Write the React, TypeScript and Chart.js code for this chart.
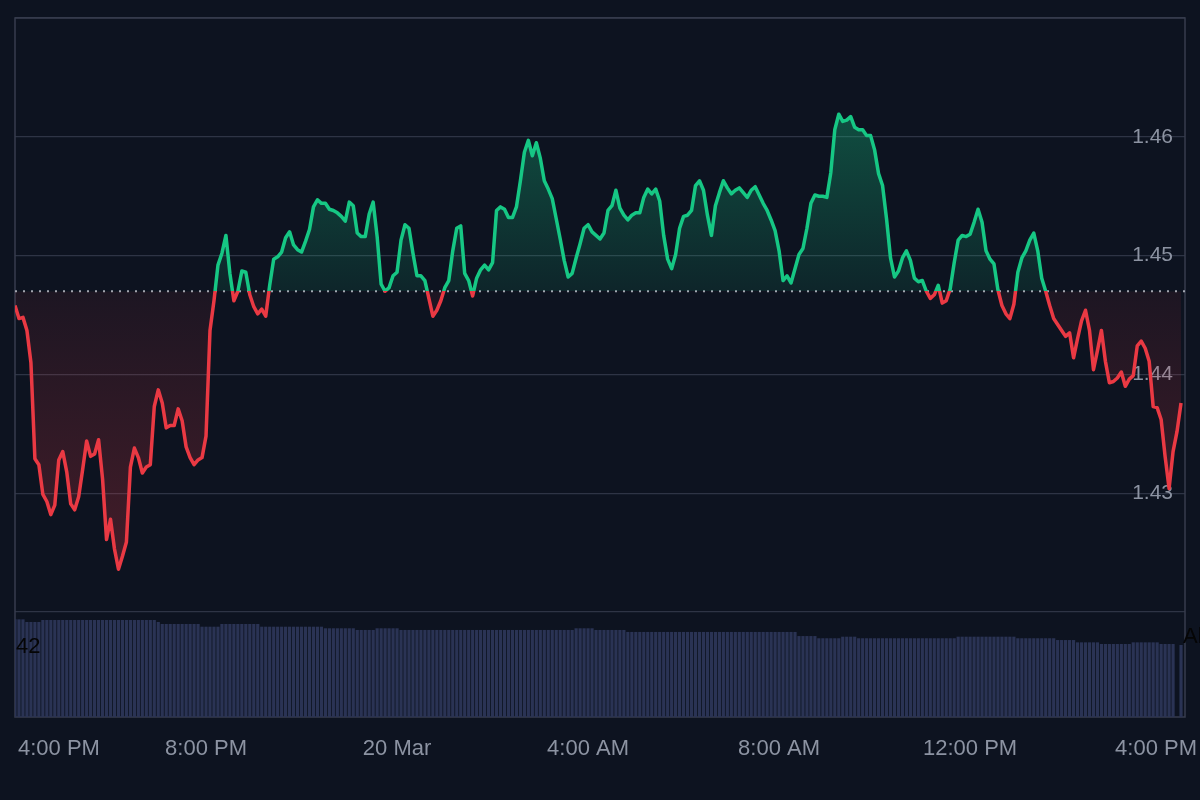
import React, { useEffect, useRef } from 'react';
import { Chart, registerables } from 'chart.js';

Chart.register(...registerables);

// ---------- data ----------
const BASELINE = 1.447;
const STEP_MIN = 5; // minutes between samples, first sample at 4:00 PM
const X_MAX = 1470;

const tickMinutes = [0, 240, 480, 720, 960, 1200, 1440];
const tickLabels = ['4:00 PM', '8:00 PM', '20 Mar', '4:00 AM', '8:00 AM', '12:00 PM', '4:00 PM'];

const priceGrid = [1.42, 1.43, 1.44, 1.45, 1.46, 1.47];
const priceTickLabels = ['', '1.43', '1.44', '1.45', '1.46', ''];

const prices = [
  1.4458, 1.4447, 1.4448, 1.4437, 1.4410, 1.4329, 1.4324, 1.4299, 1.4293, 1.4282,
  1.4290, 1.4328, 1.4335, 1.4318, 1.4291, 1.4286, 1.4297, 1.4320, 1.4344, 1.4331,
  1.4333, 1.4345, 1.4312, 1.4261, 1.4278, 1.4253, 1.4236, 1.4247, 1.4259, 1.4322,
  1.4338, 1.4330, 1.4317, 1.4322, 1.4324, 1.4373, 1.4387, 1.4376, 1.4355, 1.4357,
  1.4357, 1.4371, 1.4361, 1.4339, 1.4330, 1.4324, 1.4328, 1.4330, 1.4348, 1.4437,
  1.4462, 1.4492, 1.4502, 1.4517, 1.4485, 1.4462, 1.4470, 1.4487, 1.4486, 1.4467,
  1.4457, 1.4451, 1.4455, 1.4449, 1.4475, 1.4497, 1.4499, 1.4503, 1.4515, 1.4520,
  1.4509, 1.4505, 1.4503, 1.4512, 1.4522, 1.4541, 1.4547, 1.4544, 1.4544, 1.4539,
  1.4538, 1.4536, 1.4533, 1.4529, 1.4545, 1.4542, 1.4519, 1.4516, 1.4516, 1.4535,
  1.4545, 1.4516, 1.4476, 1.4470, 1.4473, 1.4483, 1.4486, 1.4513, 1.4526, 1.4523,
  1.4502, 1.4483, 1.4483, 1.4479, 1.4464, 1.4449, 1.4454, 1.4462, 1.4473, 1.4479,
  1.4504, 1.4523, 1.4525, 1.4485, 1.4479, 1.4466, 1.4481, 1.4488, 1.4492, 1.4488,
  1.4494, 1.4538, 1.4541, 1.4539, 1.4532, 1.4532, 1.4541, 1.4563, 1.4587, 1.4597,
  1.4584, 1.4595, 1.4582, 1.4563, 1.4556, 1.4548, 1.4531, 1.4514, 1.4496, 1.4482,
  1.4485, 1.4498, 1.4510, 1.4523, 1.4526, 1.4520, 1.4517, 1.4514, 1.4519, 1.4538,
  1.4542, 1.4555, 1.4540, 1.4534, 1.4530, 1.4534, 1.4536, 1.4536, 1.4549, 1.4556,
  1.4552, 1.4556, 1.4546, 1.4517, 1.4497, 1.4489, 1.4501, 1.4523, 1.4533, 1.4534,
  1.4538, 1.4559, 1.4563, 1.4555, 1.4534, 1.4517, 1.4542, 1.4553, 1.4563, 1.4557,
  1.4552, 1.4555, 1.4557, 1.4553, 1.4549, 1.4555, 1.4558, 1.4551, 1.4544, 1.4538,
  1.4530, 1.4521, 1.4504, 1.4479, 1.4483, 1.4477, 1.4489, 1.4501, 1.4506, 1.4523,
  1.4544, 1.4551, 1.4550, 1.4550, 1.4549, 1.4570, 1.4606, 1.4619, 1.4613, 1.4614,
  1.4617, 1.4608, 1.4606, 1.4606, 1.4601, 1.4601, 1.4589, 1.4569, 1.4559, 1.4531,
  1.4498, 1.4482, 1.4487, 1.4498, 1.4504, 1.4496, 1.4481, 1.4478, 1.4479, 1.4470,
  1.4464, 1.4467, 1.4475, 1.4460, 1.4462, 1.4472, 1.4494, 1.4513, 1.4517, 1.4516,
  1.4518, 1.4528, 1.4539, 1.4528, 1.4504, 1.4497, 1.4493, 1.4471, 1.4458, 1.4451,
  1.4447, 1.4459, 1.4486, 1.4498, 1.4504, 1.4513, 1.4519, 1.4504, 1.4481, 1.4470,
  1.4458, 1.4447, 1.4442, 1.4437, 1.4432, 1.4435, 1.4414, 1.4430, 1.4445, 1.4454,
  1.4437, 1.4404, 1.4420, 1.4437, 1.4411, 1.4393, 1.4394, 1.4397, 1.4402, 1.4390,
  1.4396, 1.4399, 1.4424, 1.4428, 1.4422, 1.4411, 1.4373, 1.4372, 1.4362, 1.4331,
  1.4304, 1.4335, 1.4352, 1.4376,
];

const volumes = [
  93.0, 93.0, 93.0, 90.5, 90.5, 90.5, 90.5, 92.4, 92.4, 92.4,
  92.4, 92.4, 92.4, 92.4, 92.4, 92.4, 92.4, 92.4, 92.4, 92.4,
  92.4, 92.4, 92.4, 92.4, 92.4, 92.4, 92.4, 92.4, 92.4, 92.4,
  92.4, 92.4, 92.4, 92.4, 92.4, 92.4, 90.5, 88.6, 88.6, 88.6,
  88.6, 88.6, 88.6, 88.6, 88.6, 88.6, 88.6, 86.0, 86.0, 86.0,
  86.0, 86.0, 88.6, 88.6, 88.6, 88.6, 88.6, 88.6, 88.6, 88.6,
  88.6, 88.6, 86.0, 86.0, 86.0, 86.0, 86.0, 86.0, 86.0, 86.0,
  86.0, 86.0, 86.0, 86.0, 86.0, 86.0, 86.0, 86.0, 84.5, 84.5,
  84.5, 84.5, 84.5, 84.5, 84.5, 84.5, 82.9, 82.9, 82.9, 82.9,
  82.9, 84.5, 84.5, 84.5, 84.5, 84.5, 84.5, 82.9, 82.9, 82.9,
  82.9, 82.9, 82.9, 82.9, 82.9, 82.9, 82.9, 82.9, 82.9, 82.9,
  82.9, 82.9, 82.9, 82.9, 82.9, 82.9, 82.9, 82.9, 82.9, 82.9,
  82.9, 82.9, 82.9, 82.9, 82.9, 82.9, 82.9, 82.9, 82.9, 82.9,
  82.9, 82.9, 82.9, 82.9, 82.9, 82.9, 82.9, 82.9, 82.9, 82.9,
  82.9, 84.5, 84.5, 84.5, 84.5, 84.5, 82.9, 82.9, 82.9, 82.9,
  82.9, 82.9, 82.9, 82.9, 81.0, 81.0, 81.0, 81.0, 81.0, 81.0,
  81.0, 81.0, 81.0, 81.0, 81.0, 81.0, 81.0, 81.0, 81.0, 81.0,
  81.0, 81.0, 81.0, 81.0, 81.0, 81.0, 81.0, 81.0, 81.0, 81.0,
  81.0, 81.0, 81.0, 81.0, 81.0, 81.0, 81.0, 81.0, 81.0, 81.0,
  81.0, 81.0, 81.0, 81.0, 81.0, 81.0, 81.0, 77.1, 77.1, 77.1,
  77.1, 77.1, 75.0, 75.0, 75.0, 75.0, 75.0, 75.0, 76.5, 76.5,
  76.5, 76.5, 75.0, 75.0, 75.0, 75.0, 75.0, 75.0, 75.0, 75.0,
  75.0, 75.0, 75.0, 75.0, 75.0, 75.0, 75.0, 75.0, 75.0, 75.0,
  75.0, 75.0, 75.0, 75.0, 75.0, 75.0, 75.0, 76.5, 76.5, 76.5,
  76.5, 76.5, 76.5, 76.5, 76.5, 76.5, 76.5, 76.5, 76.5, 76.5,
  76.5, 76.5, 75.0, 75.0, 75.0, 75.0, 75.0, 75.0, 75.0, 75.0,
  75.0, 75.0, 73.3, 73.3, 73.3, 73.3, 73.3, 71.1, 71.1, 71.1,
  71.1, 71.1, 71.1, 69.5, 69.5, 69.5, 69.5, 69.5, 69.5, 69.5,
  69.5, 71.1, 71.1, 71.1, 71.1, 71.1, 71.1, 71.1, 69.5, 69.5,
  69.5, 69.5, 0, 68.6,
];

const paneLabels = [
  { text: '42', minute: 0, value: 67, dx: 1 },
  { text: 'Al', minute: X_MAX, value: 76, dx: -2 },
];

// ---------- styles ----------
const BG = '#0d1320';
const GRID = '#2e3445';
const FRAME = '#373d4d';
const GREEN = '#16c784';
const RED = '#ea3943';
const TEXT = '#8c93a2';
const VOL = '#2a3354';
const FONT = '"Liberation Sans", Arial, Helvetica, sans-serif';

export default function App() {
  const ref = useRef<HTMLCanvasElement | null>(null);

  useEffect(() => {
    const canvas = ref.current;
    if (!canvas) return;
    const ctx = canvas.getContext('2d');
    if (!ctx) return;

    const priceData = prices.map((p, i) => ({ x: i * STEP_MIN, y: p }));
    const volData = volumes.map((v, i) => ({ x: i * STEP_MIN, y: v }));

    const bgPlugin = {
      id: 'bg',
      beforeDraw(chart: any) {
        const c = chart.ctx;
        c.save();
        c.fillStyle = BG;
        c.fillRect(0, 0, chart.width, chart.height);
        c.restore();
      },
      beforeDatasetsDraw(chart: any) {
        const { ctx: c, chartArea: a } = chart;
        c.save();
        c.strokeStyle = FRAME;
        c.lineWidth = 1.5;
        c.strokeRect(a.left, a.top, a.right - a.left, a.bottom - a.top);
        c.restore();
      },
      afterDraw(chart: any) {
        const { ctx: c, chartArea: a, scales } = chart;
        const xs = scales.x;
        c.save();
        c.font = `22px ${FONT}`;
        c.fillStyle = TEXT;
        c.textBaseline = 'middle';
        c.textAlign = 'left';
        tickMinutes.forEach((m, i) => {
          const label = tickLabels[i];
          const w = c.measureText(label).width;
          const px = xs.getPixelForValue(m);
          let left = px - w / 2;
          left = Math.max(left, a.left + 3);
          left = Math.min(left, chart.width - 3 - w);
          c.fillText(label, left, a.bottom + 32);
        });
        c.fillStyle = '#050505';
        paneLabels.forEach((l) => {
          c.fillText(l.text, xs.getPixelForValue(l.minute) + l.dx, scales.yv.getPixelForValue(l.value));
        });
        c.restore();
      },
    };

    const chart = new Chart(ctx, {
      type: 'line',
      data: {
        datasets: [
          {
            type: 'line',
            label: 'Price',
            data: priceData,
            borderColor: GREEN,
            borderWidth: 3.5,
            pointRadius: 0,
            tension: 0,
            borderJoinStyle: 'round',
            fill: { target: { value: BASELINE }, above: 'rgba(22,199,132,0.2)', below: 'rgba(234,57,67,0.12)' },
            yAxisID: 'y',
            order: 0,
          } as any,
          {
            type: 'line',
            label: 'Open',
            data: [{ x: 0, y: BASELINE }, { x: X_MAX, y: BASELINE }],
            borderColor: '#a3a8b2',
            borderWidth: 2,
            borderDash: [2, 6],
            pointRadius: 0,
            fill: false,
            yAxisID: 'y',
            order: 1,
          } as any,
          {
            type: 'bar',
            label: 'Volume',
            data: volData,
            backgroundColor: VOL,
            barPercentage: 0.8,
            categoryPercentage: 1,
            yAxisID: 'yv',
            order: 2,
          } as any,
        ],
      },
      options: {
        responsive: false,
        animation: false,
        devicePixelRatio: 1,
        layout: { padding: { left: 15, right: 15, top: 18, bottom: 83 } },
        plugins: { legend: { display: false }, tooltip: { enabled: false } },
        scales: {
          x: { type: 'linear', min: 0, max: X_MAX, offset: false, display: false },
          y: {
            type: 'linear',
            position: 'right',
            stack: 'panes',
            stackWeight: 594,
            min: priceGrid[0],
            max: priceGrid[priceGrid.length - 1],
            afterBuildTicks: (s: any) => {
              s.ticks = priceGrid.map((v) => ({ value: v }));
            },
            afterFit: (s: any) => {
              s.width = 0;
              s.paddingTop = 0;
              s.paddingBottom = 0;
            },
            grid: { color: GRID, lineWidth: 1.3, drawTicks: false },
            border: { display: false },
            ticks: {
              mirror: true,
              padding: -12,
              color: TEXT,
              font: { size: 21, family: FONT },
              callback: (_v: any, i: number) => priceTickLabels[i],
            },
          },
          yv: {
            type: 'linear',
            position: 'right',
            stack: 'panes',
            stackWeight: 105,
            min: 0,
            max: 100,
            display: false,
            afterFit: (s: any) => {
              s.width = 0;
            },
          },
        },
      } as any,
      plugins: [bgPlugin],
    });

    // colour the line / fill relative to the baseline, using the price scale
    const ys = chart.scales.y;
    const top = ys.top;
    const bottom = ys.bottom;
    const basePx = ys.getPixelForValue(BASELINE);
    const stop = Math.min(1, Math.max(0, (basePx - top) / (bottom - top)));
    const line = ctx.createLinearGradient(0, top, 0, bottom);
    line.addColorStop(0, GREEN);
    line.addColorStop(stop, GREEN);
    line.addColorStop(stop, RED);
    line.addColorStop(1, RED);
    const above = ctx.createLinearGradient(0, top, 0, basePx);
    above.addColorStop(0, 'rgba(22,199,132,0.45)');
    above.addColorStop(1, 'rgba(22,199,132,0.10)');
    const below = ctx.createLinearGradient(0, basePx, 0, bottom);
    below.addColorStop(0, 'rgba(234,57,67,0.07)');
    below.addColorStop(1, 'rgba(234,57,67,0.28)');
    const ds: any = chart.data.datasets[0];
    ds.borderColor = line;
    ds.fill = { target: { value: BASELINE }, above, below };
    chart.update();

    return () => chart.destroy();
  }, []);

  return (
    <div style={{ position: 'absolute', left: 0, top: 0, width: 1200, height: 800, background: BG, overflow: 'hidden' }}>
      <canvas ref={ref} width={1200} height={800} />
    </div>
  );
}
